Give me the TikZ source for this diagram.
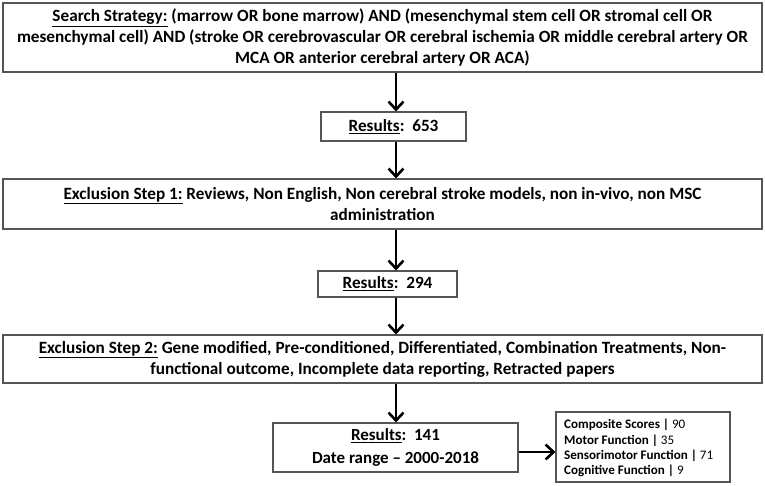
\documentclass[tikz,border=0pt]{standalone}
\usepackage{fontspec}
\setmainfont{Carlito}
\usetikzlibrary{arrows.meta}
\definecolor{boxline}{RGB}{85,85,85}
\newlength{\measlen}
\def\bigsize{16.6}
\def\datesize{17.5}
\def\listsize{13}
\AtBeginDocument{%
  \settowidth{\measlen}{\bfseries\fontsize{10}{12}\selectfont mesenchymal cell) AND (stroke OR cerebrovascular OR cerebral ischemia OR middle cerebral artery OR}%
  \ifdim\measlen>10pt \pgfmathsetmacro{\tmpsize}{10*731/\measlen}\global\let\bigsize\tmpsize\fi
  \settowidth{\measlen}{\bfseries\fontsize{10}{12}\selectfont Date range -- 2000-2018}%
  \ifdim\measlen>10pt \pgfmathsetmacro{\tmpsize}{10*167/\measlen}\global\let\datesize\tmpsize\fi
  \settowidth{\measlen}{\fontsize{10}{12}\selectfont\textbf{Sensorimotor Function |} 71}%
  \ifdim\measlen>10pt \pgfmathsetmacro{\tmpsize}{10*149/\measlen}\global\let\listsize\tmpsize\fi
}
\tikzset{
  box/.style={draw=boxline, line width=1.1pt, fill=white, inner sep=0pt, align=center, font=\bfseries\fontsize{\bigsize}{21}\selectfont},
  arr/.style={line width=2.6pt, -{Straight Barb[length=8pt,width=15pt,line width=2.6pt]}},
  listtext/.style={inner sep=0pt, align=left, anchor=west, font=\fontsize{\listsize}{15.3}\selectfont},
}
\begin{document}
\begin{tikzpicture}[x=1pt,y=-1pt]
\useasboundingbox (0,0) rectangle (765,485);
\coordinate (ax) at (396,0);
\node[box, minimum width=759pt, minimum height=69pt] (b1) at (382.5,37.5)
  {\underline{Search Strategy:} (marrow OR bone marrow) AND (mesenchymal stem cell OR stromal cell OR\\
   mesenchymal cell) AND (stroke OR cerebrovascular OR cerebral ischemia OR middle cerebral artery OR\\
   MCA OR anterior cerebral artery OR ACA)};
\node[box, minimum width=145pt, minimum height=29pt] (b2) at (393.5,126.5)
  {\underline{Results}:\ \ 653};
\node[box, minimum width=759pt, minimum height=50pt] (b3) at (382.5,204)
  {\underline{Exclusion Step 1:} Reviews, Non English, Non cerebral stroke models, non in-vivo, non MSC\\
   administration};
\node[box, minimum width=139pt, minimum height=26pt] (b4) at (387.5,284)
  {\underline{Results}:\ \ 294};
\node[box, minimum width=759pt, minimum height=48pt] (b5) at (382.5,359)
  {\underline{Exclusion Step 2:} Gene modified, Pre-conditioned, Differentiated, Combination Treatments, Non-\\
   functional outcome, Incomplete data reporting, Retracted papers};
\node[box, minimum width=245pt, minimum height=49pt, font=\bfseries\fontsize{\datesize}{23}\selectfont] (b6) at (395.5,447.5)
  {\underline{Results}:\ \ 141\\ Date range -- 2000-2018};
\node[box, minimum width=174pt, minimum height=70pt] (b7) at (643,447) {};
\node[listtext] (b7t) at (564,448)
  {\textbf{Composite Scores |} 90\\
   \textbf{Motor Function |} 35\\
   \textbf{Sensorimotor Function |} 71\\
   \textbf{Cognitive Function |} 9};
\draw[arr] (b1.south -| ax) -- (b2.north -| ax);
\draw[arr] (b2.south -| ax) -- (b3.north -| ax);
\draw[arr] (b3.south -| ax) -- (b4.north -| ax);
\draw[arr] (b4.south -| ax) -- (b5.north -| ax);
\draw[arr] (b5.south -| ax) -- (b6.north -| ax);
\draw[arr] (b6.east |- 0,452) -- (b7.west |- 0,452);
\end{tikzpicture}
\end{document}
